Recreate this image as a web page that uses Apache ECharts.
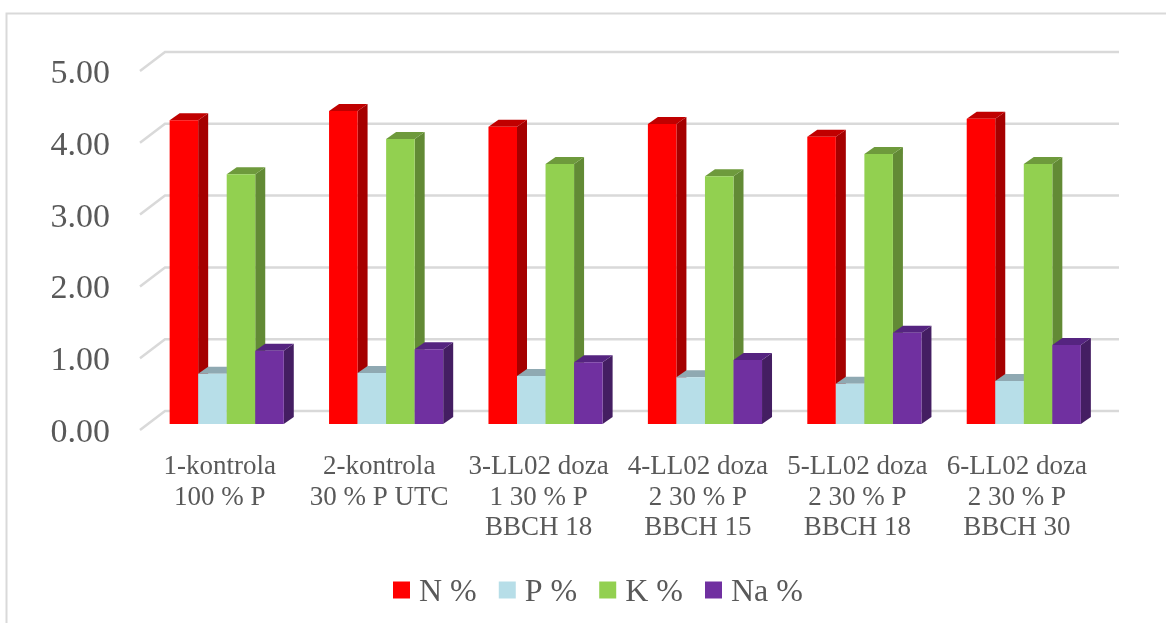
<!DOCTYPE html>
<html><head><meta charset="utf-8">
<style>html,body{margin:0;padding:0;background:#fff}#c{width:1166px;height:623px}</style>
<script src="https://cdn.jsdelivr.net/npm/echarts@6/dist/echarts.min.js"></script>
</head><body><div id="c"></div>
<script>
const categories = ['1-kontrola\n100 % P','2-kontrola\n30 % P UTC','3-LL02 doza\n1 30 % P\nBBCH 18','4-LL02 doza\n2 30 % P\nBBCH 15','5-LL02 doza\n2 30 % P\nBBCH 18','6-LL02 doza\n2 30 % P\nBBCH 30'];
const yTicks = [0,1,2,3,4,5];
const nValues = [4.23,4.36,4.14,4.18,4.00,4.25];
const pValues = [0.70,0.71,0.67,0.65,0.56,0.60];
const kValues = [3.48,3.97,3.62,3.45,3.76,3.62];
const naValues = [1.02,1.04,0.86,0.89,1.27,1.10];
const FONT = 'Liberation Serif';
const TXT = '#595959';
const chart = echarts.init(document.getElementById('c'),null,{renderer:'canvas'});
// bars stand 7px right / 6px up from the front plane; depth of each bar 10 / 7; wall depth 25 / 19
function barSeries(name, values, idx, front, top, side){
  return {type:'custom',name,data:values.map((v,i)=>[i,v]),encode:{x:0,y:1},itemStyle:{color:front},z:3,silent:true,
    renderItem(params,api){
      const p=api.coord([api.value(0),api.value(1)]), b=api.coord([api.value(0),0]);
      const w=api.size([1,0])[0]*0.179;
      const x0=p[0]+7+(idx-2)*w, x1=x0+w, yt=p[1]-6, yb=b[1]-6, dx=10, dy=7;
      return {type:'group',children:[
        {type:'polygon',shape:{points:[[x1,yt],[x1+dx,yt-dy],[x1+dx,yb-dy],[x1,yb]]},style:{fill:side}},
        {type:'polygon',shape:{points:[[x0,yt],[x0+dx,yt-dy],[x1+dx,yt-dy],[x1,yt]]},style:{fill:top}},
        {type:'rect',shape:{x:x0,y:yt,width:w,height:yb-yt},style:{fill:front}}
      ]};
    }};
}
chart.setOption({
  animation:false,
  backgroundColor:'#fff',
  grid:{left:140,top:71,width:956.5,height:359,containLabel:false},
  xAxis:{type:'category',data:categories,axisLine:{show:false},axisTick:{show:false},splitLine:{show:false},
    axisLabel:{interval:0,color:TXT,fontFamily:FONT,fontSize:27,lineHeight:30.5,margin:22}},
  yAxis:{type:'value',min:0,max:5,interval:1,axisLine:{show:false},axisTick:{show:false},splitLine:{show:false},
    axisLabel:{margin:30,formatter:v=>'{a|'+v.toFixed(2)+'}',
      rich:{a:{color:TXT,fontFamily:FONT,fontSize:34,lineHeight:40,padding:[6,0,0,0]}}}},
  legend:{data:['N %','P %','K %','Na %'],left:388,top:566,itemWidth:17,itemHeight:17,itemGap:22,
    formatter:n=>'{a|'+n+'}',
    textStyle:{rich:{a:{color:TXT,fontFamily:FONT,fontSize:32,lineHeight:38,padding:[6,0,0,4]}}},selectedMode:false,icon:'rect'},
  graphic:[{type:'polyline',silent:true,shape:{points:[[6.5,623],[6.5,13.5],[1166,13.5]]},style:{fill:null,stroke:'#D9D9D9',lineWidth:2}}],
  series:[
    {type:'custom',name:'walls',data:yTicks.map(t=>[0,t]),encode:{x:0,y:1},silent:true,z:1,
      renderItem(params,api){
        const p=api.coord([0,api.value(1)]), bw=api.size([1,0])[0];
        const xl=p[0]-bw/2, xr=xl+bw*categories.length;
        return {type:'polyline',shape:{points:[[xl,p[1]],[xl+25,p[1]-19],[xr+22.5,p[1]-19]]},style:{fill:null,stroke:'#D9D9D9',lineWidth:2.5}};
      }},
    barSeries('N %',nValues,0,'#FF0000','#C00000','#A50000'),
    barSeries('P %',pValues,1,'#B7DEE8','#8FA9B2','#7F9CA5'),
    barSeries('K %',kValues,2,'#92D050','#6E9A3C','#628A35'),
    barSeries('Na %',naValues,3,'#7030A0','#552480','#441E62')
  ]
});
</script></body></html>
